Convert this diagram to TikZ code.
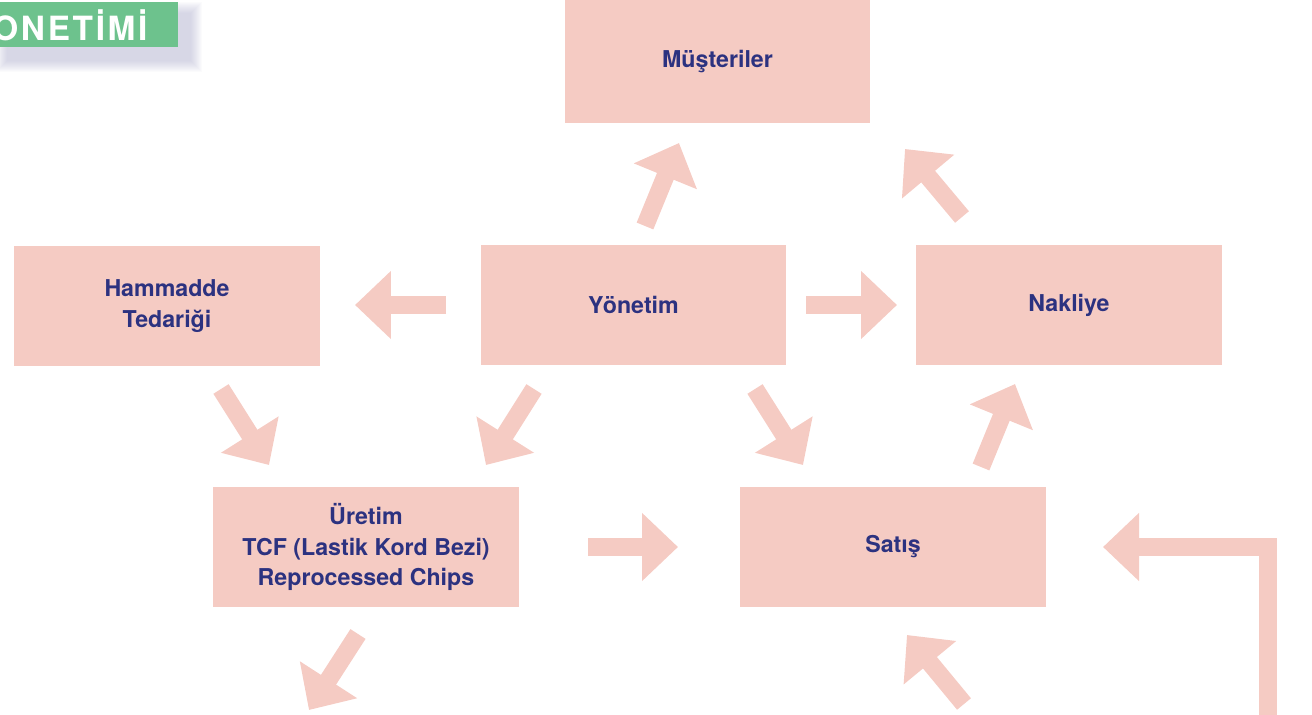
\documentclass[tikz,border=0pt]{standalone}
\usepackage{fontspec}
\setmainfont{TeX Gyre Heros}
\newfontfamily\headfont[LetterSpace=8]{TeX Gyre Heros}
\definecolor{boxpink}{RGB}{245,203,195}
\definecolor{textnavy}{RGB}{44,50,128}
\definecolor{headgreen}{RGB}{109,194,141}
\definecolor{shadowgray}{RGB}{150,150,190}
\usetikzlibrary{arrows.meta,positioning}

\begin{document}
\begin{tikzpicture}[x=0.02cm,y=-0.02cm,
  box/.style={fill=boxpink,minimum width=6.12cm,minimum height=2.42cm,inner sep=0pt,
    align=center,text=textnavy,font=\fontsize{13.2}{17.6}\selectfont\bfseries},
  flow/.style={draw=boxpink,line width=0.36cm,line join=miter,
    -{Triangle[length=0.72cm,width=1.32cm]}}]
  \useasboundingbox (0,0) rectangle (1312,715);
  % header tab with soft shadow
  \foreach \k in {0,...,11}
    \fill[shadowgray,opacity=0.04] (-4+\k,2+\k) rectangle (202-\k,72-\k);
  \fill[headgreen] (0,2) rectangle (178,47);
  \node[anchor=west,inner sep=0pt,text=white,font=\headfont\fontsize{19}{21}\selectfont\bfseries] (head) at (-8,25.5) {ONETİMİ};
  % boxes
  \node[box,minimum height=2.46cm] (mus) at (717.5,61.5) {Müşteriler};
  \node[box] (ham) at (167,306) {Hammadde\\Tedariği};
  \node[box] (yon) at (633.5,305) {Yönetim};
  \node[box] (nak) at (1069,305) {Nakliye};
  \node[box] (ure) at (366,547) {Üretim\\TCF (Lastik Kord Bezi)\\Reprocessed Chips};
  \node[box] (sat) at (893,547) {Satış};
  % arrow ends
  \coordinate (yon-mus-a) at (645,226);  \coordinate (yon-mus-b) at (679,143);
  \coordinate (nak-mus-a) at (962,217);  \coordinate (nak-mus-b) at (905,149);
  \coordinate (yon-ham-a) at (446,305);  \coordinate (yon-ham-b) at (355,305);
  \coordinate (yon-nak-a) at (806,305);  \coordinate (yon-nak-b) at (897,305);
  \coordinate (ham-ure-a) at (221,389);  \coordinate (ham-ure-b) at (269,465);
  \coordinate (yon-ure-a) at (534,389);  \coordinate (yon-ure-b) at (486,465);
  \coordinate (yon-sat-a) at (755,389);  \coordinate (yon-sat-b) at (803,465);
  \coordinate (sat-nak-a) at (981,467);  \coordinate (sat-nak-b) at (1015,384);
  \coordinate (ure-sat-a) at (588,547);  \coordinate (ure-sat-b) at (678,547);
  \coordinate (ure-out-a) at (358,634);  \coordinate (ure-out-b) at (309,710);
  \coordinate (in-sat-a) at (964,704);   \coordinate (in-sat-b) at (907,635);
  \coordinate (ret-a) at (1267.5,725);   \coordinate (ret-b) at (1267.5,547);
  \coordinate (ret-c) at (1103,547);
  % arrows
  \draw[flow] (yon-mus-a) -- (yon-mus-b);
  \draw[flow] (nak-mus-a) -- (nak-mus-b);
  \draw[flow] (yon-ham-a) -- (yon-ham-b);
  \draw[flow] (yon-nak-a) -- (yon-nak-b);
  \draw[flow] (ham-ure-a) -- (ham-ure-b);
  \draw[flow] (yon-ure-a) -- (yon-ure-b);
  \draw[flow] (yon-sat-a) -- (yon-sat-b);
  \draw[flow] (sat-nak-a) -- (sat-nak-b);
  \draw[flow] (ure-sat-a) -- (ure-sat-b);
  \draw[flow] (ure-out-a) -- (ure-out-b);
  \draw[flow] (in-sat-a) -- (in-sat-b);
  \draw[flow] (ret-a) -- (ret-b) -- (ret-c);
\end{tikzpicture}
\end{document}
